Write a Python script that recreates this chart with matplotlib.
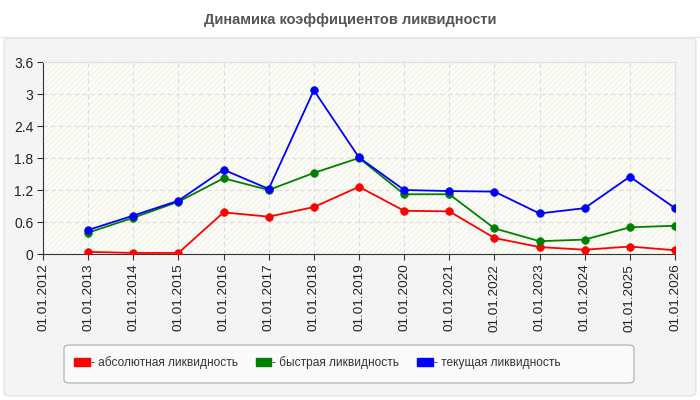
import matplotlib.pyplot as plt
from matplotlib.patches import FancyBboxPatch, Patch, Rectangle
from matplotlib.lines import Line2D

plt.rcParams['font.family'] = ['Liberation Sans', 'DejaVu Sans']

years = list(range(2012, 2027))
tick_labels = ['01.01.%d' % y for y in years]
point_years = list(range(2013, 2027))

absolute = [0.04, 0.02, 0.02, 0.78, 0.70, 0.88, 1.26, 0.81, 0.80, 0.30, 0.13, 0.08, 0.14, 0.07]
quick = [0.40, 0.68, 0.98, 1.42, 1.20, 1.52, 1.80, 1.12, 1.12, 0.48, 0.24, 0.27, 0.50, 0.53]
current = [0.45, 0.72, 1.00, 1.58, 1.22, 3.07, 1.81, 1.20, 1.18, 1.17, 0.76, 0.86, 1.45, 0.86]

y_ticks = [0, 0.6, 1.2, 1.8, 2.4, 3, 3.6]
y_labels = ['0', '0.6', '1.2', '1.8', '2.4', '3', '3.6']

series = [
    ('- абсолютная ликвидность', absolute, '#ff0000'),
    ('- быстрая ликвидность', quick, '#008000'),
    ('- текущая ликвидность', current, '#0000ff'),
]

fig = plt.figure(figsize=(7, 4), dpi=100)
fig.patch.set_facecolor('white')

# grey panel under the chart
panel = FancyBboxPatch((4 / 700, 4 / 400), 692 / 700, 358 / 400,
                       boxstyle='round,pad=0,rounding_size=0.01',
                       transform=fig.transFigure, facecolor='#f4f4f4',
                       edgecolor='#e4e4e4', lw=1, zorder=-10)
fig.patches.append(panel)
fig.add_artist(Line2D([0, 1], [363 / 400, 363 / 400], color='#e6e6e6', lw=1,
                      transform=fig.transFigure))

fig.text(0.5, 380 / 400, 'Динамика коэффициентов ликвидности', ha='center', va='center',
         fontsize=10.5, fontweight='bold', color='#555555')

ax = fig.add_axes([43 / 700, 146 / 400, 632 / 700, 192 / 400])
ax.set_facecolor('#fdfdf7')
ax.add_patch(Rectangle((0, 0), 1, 1, transform=ax.transAxes, facecolor='none',
                       edgecolor='#f3f3ee', hatch='//////', lw=0, zorder=0))

for label, vals, col in series:
    ax.plot(point_years, vals, color=col, lw=1.3, marker='o', markersize=5.5,
            markeredgewidth=0.5, zorder=3)

ax.set_xlim(2012, 2026)
ax.set_ylim(0, 3.6)
ax.set_xticks(years)
ax.set_xticklabels(tick_labels, rotation=90, fontsize=9.7, color='#222222')
ax.set_yticks(y_ticks)
ax.set_yticklabels(y_labels, fontsize=10, color='#222222')
ax.grid(True, color='#dcdcdc', ls=(0, (4, 3)), lw=0.8)
ax.set_axisbelow(True)

for s in ['top', 'right']:
    ax.spines[s].set_color('#e0e0e0')
for s in ['left', 'bottom']:
    ax.spines[s].set_color('#333333')
ax.tick_params(length=4, color='#333333', pad=3)

# legend box
box = FancyBboxPatch((64 / 700, 17 / 400), 570 / 700, 38 / 400,
                     boxstyle='round,pad=0,rounding_size=0.008',
                     transform=fig.transFigure, facecolor='#fafafa',
                     edgecolor='#aaaaaa', lw=0.8, zorder=1)
fig.patches.append(box)

handles = [Patch(facecolor=c, edgecolor=c) for _, _, c in series]
leg = fig.legend(handles, [s[0] for s in series], loc='center left', ncol=3,
                 bbox_to_anchor=(74 / 700, 37 / 400), borderaxespad=0, borderpad=0,
                 fontsize=8.6, frameon=False, handlelength=1.3, handleheight=0.6,
                 handletextpad=0.1, columnspacing=1.5)
for t in leg.get_texts():
    t.set_color('#333333')

fig.savefig('out.png', dpi=100)
